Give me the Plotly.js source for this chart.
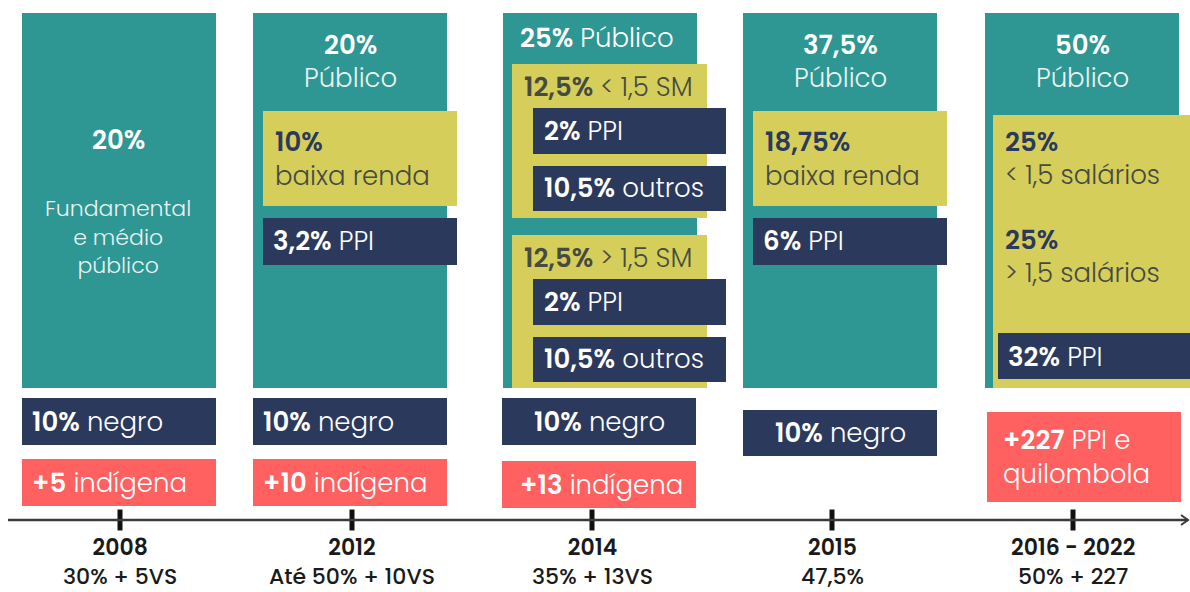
<!DOCTYPE html>
<html>
<head>
<meta charset="utf-8">
<script src="https://cdn.plot.ly/plotly-3.0.1.min.js"></script>
<style>html,body{margin:0;padding:0;background:#fff;}#chart{width:1190px;height:592px;}</style>
</head>
<body>
<div id="chart"></div>
<script>
// ---------- DATA ----------
const years = ['2008', '2012', '2014', '2015', '2016 - 2022'];
const yearTotals = ['30% + 5VS', 'Até 50% + 10VS', '35% + 13VS', '47,5%', '50% + 227'];
const publicShare = ['20%', '20%', '25%', '37,5%', '50%'];
const publicLabel = ['Fundamental<br>e médio<br>público', 'Público', 'Público', 'Público', 'Público'];
const lowIncomeShare = [null, '10%', null, '18,75%', null];
const lowIncomeLabel = [null, 'baixa renda', null, 'baixa renda', null];
const ppiShare = [null, '3,2%', null, '6%', '32%'];
const blackShare = ['10%', '10%', '10%', '10%', null];
const extraSeats = ['+5', '+10', '+13', null, '+227'];
const extraLabel = ['indígena', 'indígena', 'indígena', null, 'PPI e<br>quilombola'];
const bands2014 = ['< 1,5 SM', '> 1,5 SM'];
const bandShare2014 = ['12,5%', '12,5%'];
const bandPPI2014 = ['2%', '2%'];
const bandOthers2014 = ['10,5%', '10,5%'];
const bands2016 = ['< 1,5 salários', '> 1,5 salários'];
const bandShare2016 = ['25%', '25%'];

// ---------- STYLE / GEOMETRY ----------
const TEAL = '#2E9693', YEL = '#D5CE5A', NAVY = '#2B395C', CORAL = '#FF6060';
const WHITE = '#ffffff', LIGHT = '#e8f3f1', DARK = '#2B395C', OLIVE = '#474a42';
const FONT = 'Poppins, "Open Sans", Lato, sans-serif';
const colLeft = [22, 253, 503, 743, 985];
const colW = 194;
const tickX = [120, 352, 592, 832, 1073];
const tealTop = 13, tealBot = 388;
const axisY = 520;

const shapes = [];
const ann = [];
function rect(x0, y0, x1, y1, color) {
  shapes.push({type: 'rect', xref: 'x', yref: 'y', x0, y0, x1, y1, fillcolor: color, line: {width: 0}, layer: 'below'});
}
function label(x, y, text, opt) {
  opt = opt || {};
  ann.push({xref: 'x', yref: 'y', x, y, text, showarrow: false, borderpad: 0,
    xanchor: opt.anchor || 'left', yanchor: 'middle', align: opt.align || (opt.anchor || 'left'),
    font: {family: FONT, size: opt.size || 26, color: opt.color || WHITE, weight: opt.weight || 300}});
}
function B(t, w) { return '<span style="font-weight:' + (w || 600) + '">' + t + '</span>'; }
function mix(b, rest) { return B(b) + (rest ? ' ' + rest : ''); }

// teal columns
colLeft.forEach((x0, i) => rect(x0, tealTop, x0 + colW, tealBot, TEAL));

const cx = colLeft.map(x => x + colW / 2);
// col 0
label(cx[0] - 1, 140, B(publicShare[0]), {anchor: 'center'});
label(cx[0] - 1, 237, publicLabel[0], {anchor: 'center', size: 22, color: LIGHT});
// cols 1,3,4
[1, 3, 4].forEach(i => {
  label(cx[i], 45, B(publicShare[i]), {anchor: 'center'});
  label(cx[i], 78, publicLabel[i], {anchor: 'center', color: LIGHT});
});
// col 2 header
label(colLeft[2] + 16, 38, mix(publicShare[2], publicLabel[2]), {size: 26});

// low income boxes (cols 1, 3)
[1, 3].forEach(i => {
  const x0 = colLeft[i] + 10;
  rect(x0, 111, x0 + colW, 206, YEL);
  label(x0 + 11, 142, B(lowIncomeShare[i]), {color: DARK});
  label(x0 + 11, 176, lowIncomeLabel[i], {color: OLIVE});
  rect(x0, 218, x0 + colW, 265, NAVY);
  label(x0 + 9, 241, mix(ppiShare[i], 'PPI'), {size: 26});
});

// 2014 bands
const c2 = colLeft[2];
const bandTop = [64, 235];
bands2014.forEach((b, k) => {
  const t = bandTop[k];
  rect(c2 + 9, t, c2 + 204, t + (k === 0 ? 154 : 153), YEL);
  label(c2 + 20, t + 23, B(bandShare2014[k]) + ' ' + b, {color: OLIVE, size: 26});
  rect(c2 + 30, t + 44, c2 + 223, t + 90, NAVY);
  label(c2 + 40, t + 67, mix(bandPPI2014[k], 'PPI'), {size: 26});
  rect(c2 + 30, t + 102, c2 + 223, t + 147, NAVY);
  label(c2 + 40, t + 124, mix(bandOthers2014[k], 'outros'), {size: 26});
});

// 2016-2022 bands
const c4 = colLeft[4];
rect(c4 + 8, 115, 1190, tealBot, YEL);
const bandY16 = [142, 240];
bands2016.forEach((b, k) => {
  label(c4 + 19, bandY16[k], B(bandShare2016[k]), {color: DARK});
  label(c4 + 19, bandY16[k] + 33, b, {color: OLIVE});
});
rect(c4 + 13, 333, 1190, 379, NAVY);
label(c4 + 22, 357, mix(ppiShare[4], 'PPI'), {size: 26});

// negro boxes
const negroY = [[398, 445], [398, 445], [398, 445], [410, 456]];
blackShare.forEach((s, i) => {
  if (!s) return;
  const [y0, y1] = negroY[i];
  const x0 = colLeft[i] - (i === 2 ? 1 : 0);
  rect(x0, y0, x0 + colW, y1, NAVY);
  if (i >= 2) label(x0 + colW / 2, (y0 + y1) / 2, mix(s, 'negro'), {anchor: 'center'});
  else label(x0 + 9, (y0 + y1) / 2, mix(s, 'negro'), {});
});

// indigenous / extra boxes
const extraY = [[459, 506], [459, 506], [461, 508], null, [412, 502]];
extraSeats.forEach((s, i) => {
  if (!s) return;
  const [y0, y1] = extraY[i];
  const x0 = colLeft[i] - (i === 2 ? 1 : 0) + (i === 4 ? 2 : 0);
  rect(x0, y0, x0 + colW, y1, CORAL);
  if (i === 4) label(x0 + 15, (y0 + y1) / 2, mix(s, extraLabel[i]), {align: 'left'});
  else label(x0 + 9 + (i === 2 ? 8 : 0), (y0 + y1) / 2, mix(s, extraLabel[i]), {});
});

// timeline
shapes.push({type: 'line', xref: 'x', yref: 'y', x0: 8, x1: 1188, y0: axisY, y1: axisY, line: {color: '#3a3a3a', width: 2.5}});
shapes.push({type: 'path', xref: 'x', yref: 'y', path: `M 1181 ${axisY - 5} L 1188 ${axisY} L 1181 ${axisY + 5}`, line: {color: '#3a3a3a', width: 2}});

const traces = [{
  type: 'scatter', mode: 'markers', x: tickX, y: tickX.map(() => axisY),
  marker: {symbol: 'line-ns', size: 15, line: {width: 5, color: '#111'}},
  hoverinfo: 'skip', showlegend: false
}];
years.forEach((yv, i) => {
  label(tickX[i], 562, B(yv, 600) + '<br>' + B(yearTotals[i], 500), {anchor: 'center', color: '#1a1a1a', size: 22, weight: 500});
});

Plotly.newPlot('chart', traces, {
  width: 1190, height: 592,
  margin: {l: 0, r: 0, t: 0, b: 0},
  paper_bgcolor: '#fff', plot_bgcolor: '#fff',
  xaxis: {range: [0, 1190], visible: false, fixedrange: true},
  yaxis: {range: [592, 0], visible: false, fixedrange: true},
  shapes, annotations: ann, showlegend: false
}, {displayModeBar: false, staticPlot: true});
</script>
</body>
</html>
